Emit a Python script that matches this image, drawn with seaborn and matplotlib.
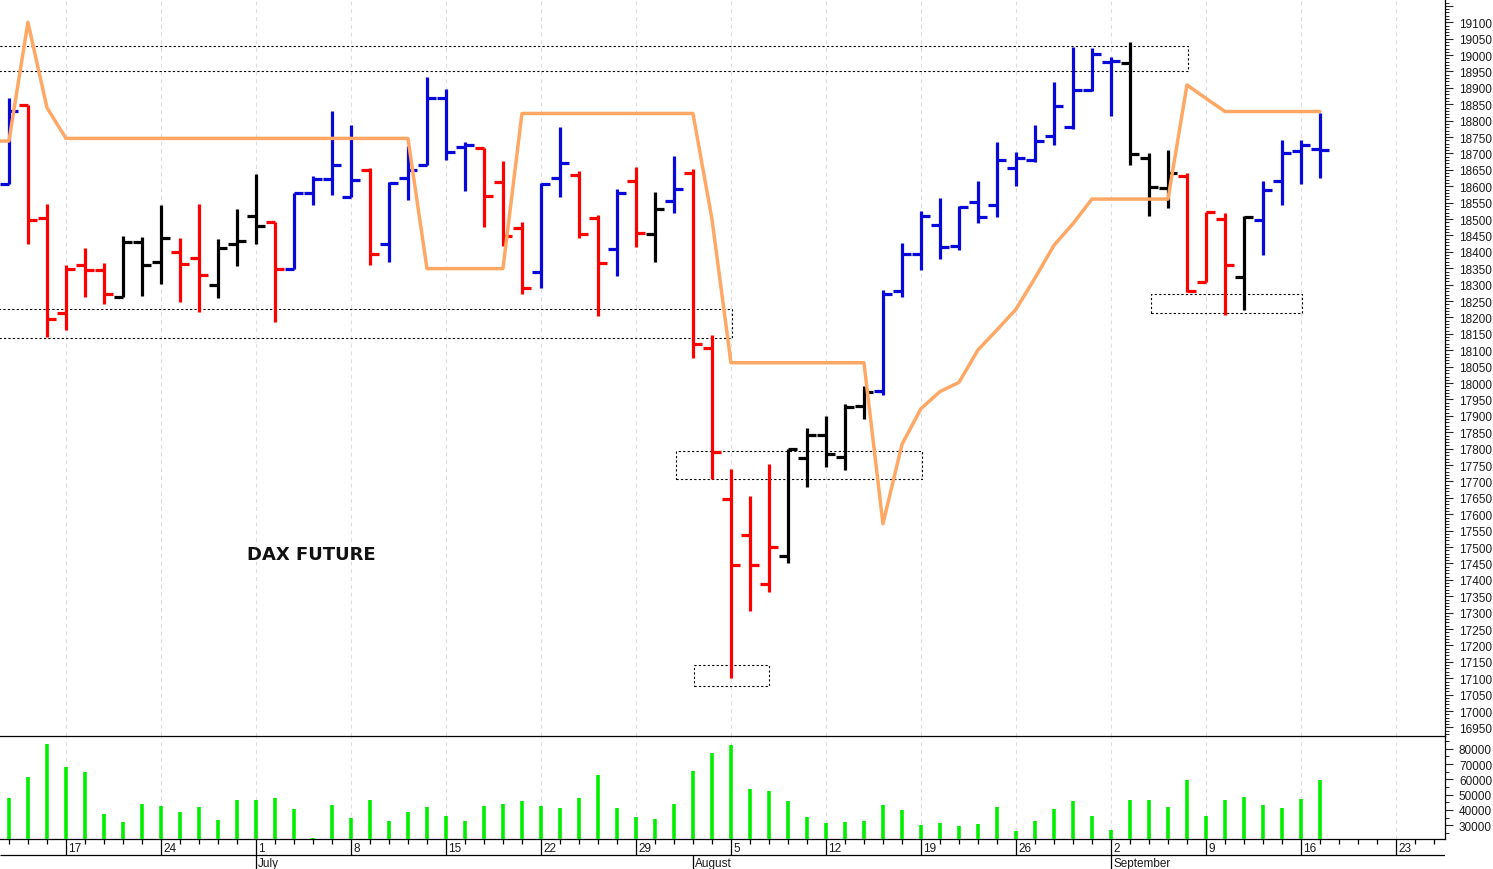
import numpy as np
import pandas as pd
import matplotlib
matplotlib.use("Agg")
import matplotlib.pyplot as plt
import seaborn as sns
from matplotlib.ticker import MultipleLocator, FuncFormatter, FixedLocator

# ---------------- data ----------------
dates = pd.bdate_range("2024-06-12", "2024-09-17")          # 70 trading days (bars)
axis_dates = pd.bdate_range("2024-06-12", "2024-09-27")     # date axis continues to the right

opens = [18606, 18848, 18503, 18213, 18360, 18344, 18262, 18430, 18370, 18401,
         18381, 18299, 18423, 18509, 18490, 18349, 18581, 18622, 18568, 18650,
         18425, 18624, 18664, 18869, 18721, 18716, 18613, 18474, 18340, 18624,
         18634, 18502, 18408, 18615, 18456, 18554, 18639, 18108, 17647, 17538,
         17388, 17472, 17772, 17843, 17774, 17930, 17975, 18281, 18395, 18482,
         18418, 18552, 18542, 18657, 18681, 18752, 18780, 18893, 18980, 18975,
         18686, 18595, 18632, 18309, 18500, 18323, 18497, 18615, 18708, 18715]
highs = [18869, 18848, 18547, 18360, 18413, 18367, 18449, 18446, 18542, 18441,
         18547, 18438, 18532, 18637, 18490, 18581, 18632, 18828, 18787, 18657,
         18613, 18723, 18934, 18896, 18734, 18716, 18676, 18491, 18609, 18780,
         18647, 18513, 18593, 18660, 18583, 18691, 18652, 18146, 17739, 17655,
         17752, 17800, 17862, 17901, 17935, 17991, 18283, 18428, 18525, 18564,
         18540, 18617, 18734, 18703, 18786, 18917, 19026, 19021, 18995, 19041,
         18701, 18711, 18642, 18523, 18517, 18508, 18617, 18742, 18742, 18823]
lows = [18606, 18425, 18141, 18161, 18261, 18240, 18262, 18264, 18301, 18248,
        18218, 18258, 18357, 18425, 18187, 18349, 18542, 18573, 18568, 18360,
        18369, 18558, 18664, 18680, 18586, 18476, 18418, 18271, 18289, 18566,
        18442, 18204, 18327, 18416, 18370, 18517, 18077, 17709, 17102, 17306,
        17362, 17452, 17682, 17743, 17734, 17889, 17963, 18261, 18345, 18377,
        18406, 18487, 18505, 18601, 18673, 18725, 18775, 18890, 18813, 18665,
        18508, 18533, 18279, 18309, 18207, 18222, 18391, 18542, 18606, 18625]
closes = [18828, 18497, 18194, 18349, 18344, 18273, 18430, 18360, 18441, 18364,
          18330, 18413, 18433, 18479, 18349, 18581, 18622, 18665, 18619, 18393,
          18610, 18650, 18869, 18706, 18725, 18571, 18449, 18291, 18606, 18671,
          18456, 18365, 18581, 18459, 18530, 18591, 18118, 17790, 17444, 17444,
          17500, 17800, 17843, 17785, 17928, 17972, 18271, 18395, 18508, 18416,
          18538, 18505, 18680, 18686, 18737, 18845, 18893, 19003, 18981, 18698,
          18598, 18639, 18281, 18523, 18359, 18505, 18589, 18700, 18725, 18712]
bar_state = list("BRRRRRKKKRRKKKRBBBBRBBBBBRRRBBRRBRKBRRRRRKKKKKBBBBBBBBBBBBBKKKRRRKBBBB")

volumes = [47540, 61620, 83400, 68400, 64880, 37500, 32090, 43630, 42720, 38600,
           41870, 33390, 46230, 46230, 47730, 40560, 21850, 43170, 34500, 46230,
           32930, 38600, 41870, 36000, 32930, 42520, 43630, 45580, 42520, 41210,
           47540, 62530, 41210, 35350, 34240, 43630, 65340, 77070, 82750, 53600,
           52300, 45580, 35350, 31430, 31870, 32930, 42970, 39900, 30130, 31430,
           29280, 30780, 41670, 26420, 32540, 40370, 45970, 35800, 26670, 46630,
           46630, 41670, 59270, 36000, 46630, 48190, 43370, 41410, 47280, 59270]

orange_prev = 18738   # value on the bar before the first visible one
orange = ([18738, 19100, 18840, 18746] + [18746] * 18 + [18349] * 5 + [18822] * 10 +
          [18500, 18062] + [18062] * 7 +
          [17571, 17813, 17922, 17974, 18002, 18101, 18162, 18225, 18320, 18420, 18486, 18561] +
          [18561] * 4 + [18909, 18868] + [18828] * 6)

# dotted zones: (start bar, end bar, low price, high price)
zone_x0 = [-1.0, -1.0, 35.09, 36.07, 60.1]
zone_x1 = [62.04, 38.04, 48.04, 40.02, 68.04]
zone_lo = [18952, 18138, 17709, 17077, 18213]
zone_hi = [19029, 18227, 17792, 17139, 18273]

title_text = "DAX FUTURE"
month_names = {7: "July", 8: "August", 9: "September"}

# ---------------- style ----------------
sns.set_theme(style="white")
plt.rcParams["font.family"] = ["Liberation Sans", "DejaVu Sans"]
plt.rcParams["axes.linewidth"] = 0.9

W, H = 1493, 870
fig = plt.figure(figsize=(W / 100, H / 100), dpi=100)
fig.patch.set_facecolor("white")

axw = 1445 / W
p_bot = 737.3
v_bot = 840
ax_p = fig.add_axes([0, 1 - p_bot / H, axw, p_bot / H])
ax_v = fig.add_axes([0, 1 - v_bot / H, axw, (v_bot - p_bot) / H])
ax_d = fig.add_axes([0, 0, axw, (H - v_bot) / H])

XL = (-0.47, 75.58)
color_map = {"B": "#0808d8", "R": "#ff0000", "K": "#000000"}
cols = [color_map[s] for s in bar_state]
idx = np.arange(len(dates))
all_idx = np.arange(len(axis_dates))
mondays = [j for j, d in enumerate(axis_dates) if d.weekday() == 0]

grid_kw = dict(color="#dcdce6", lw=0.8, linestyle=(0, (3.5, 3.5)), zorder=0)
LABEL_FS = 8.5

# ---------------- price panel ----------------
ax_p.set_xlim(*XL)
ax_p.set_ylim(16923, 19171)
for j in mondays:
    ax_p.axvline(j, **grid_kw)

for x0, x1, lo, hi in zip(zone_x0, zone_x1, zone_lo, zone_hi):
    ax_p.plot([x0, x1, x1, x0, x0], [lo, lo, hi, hi, lo], color="black",
              lw=0.8, linestyle=(0, (2, 2)), zorder=2)

ax_p.vlines(idx, lows, highs, colors=cols, lw=2.3, zorder=3)
ax_p.hlines(opens, idx - 0.45, idx, colors=cols, lw=2.3, zorder=3)
ax_p.hlines(closes, idx, idx + 0.47, colors=cols, lw=2.3, zorder=3)

orange_df = pd.DataFrame({"x": np.arange(-1, len(orange)), "v": [orange_prev] + orange})
sns.lineplot(data=orange_df, x="x", y="v", ax=ax_p, color="#ffa866", linewidth=2.5,
             zorder=4, legend=False)

ax_p.text(311 / 1445, 1 - 555 / p_bot, title_text, transform=ax_p.transAxes,
          ha="center", va="center", fontsize=13, fontweight="bold",
          family=["DejaVu Sans"], color="#111111")

ax_p.yaxis.tick_right()
ax_p.yaxis.set_major_locator(FixedLocator(list(range(16950, 19151, 50))))
ax_p.yaxis.set_minor_locator(MultipleLocator(10))
ax_p.yaxis.set_major_formatter(FuncFormatter(lambda v, p: "" if v > 19100 else f"{int(v)}"))
ax_p.tick_params(axis="y", which="major", length=6, width=0.8, pad=4,
                 labelsize=LABEL_FS, labelcolor="#1a1a1a", right=True, left=False)
ax_p.tick_params(axis="y", which="minor", length=3, width=0.7, right=True, left=False)
ax_p.set_xticks([])
ax_p.set_xlabel("")
ax_p.set_ylabel("")
for s in ["left", "top", "bottom"]:
    ax_p.spines[s].set_visible(False)
ax_p.spines["right"].set_color("black")

# ---------------- volume panel ----------------
ax_v.set_xlim(*XL)
ax_v.set_ylim(21000, 88150)
for j in mondays:
    ax_v.axvline(j, **grid_kw)
ax_v.vlines(idx, 21000, volumes, colors="#00ee00", lw=2.6, zorder=3)
ax_v.yaxis.tick_right()
ax_v.yaxis.set_major_locator(FixedLocator(list(range(30000, 80001, 10000))))
ax_v.yaxis.set_minor_locator(MultipleLocator(5000))
ax_v.yaxis.set_major_formatter(FuncFormatter(lambda v, p: f"{int(v)}"))
ax_v.tick_params(axis="y", which="major", length=6, width=0.8, pad=4,
                 labelsize=LABEL_FS, labelcolor="#1a1a1a", right=True, left=False)
ax_v.tick_params(axis="y", which="minor", length=3, width=0.7, right=True, left=False)
ax_v.set_xticks([])
ax_v.spines["left"].set_visible(False)
for s in ["top", "right", "bottom"]:
    ax_v.spines[s].set_color("black")

# ---------------- date axis ----------------
ax_d.set_xlim(*XL)
ax_d.set_ylim(30, 0)
ax_d.axis("off")
ax_d.hlines(16, XL[0], XL[1], color="black", lw=0.9)
for j, d in zip(all_idx, axis_dates):
    if d.weekday() == 0:
        ax_d.vlines(j, 0, 16, color="black", lw=0.9)
        ax_d.text(j + 0.12, 9.3, str(d.day), ha="left", va="center", fontsize=LABEL_FS,
                  color="#1a1a1a")
    else:
        ax_d.vlines(j, 0, 4.5, color="black", lw=0.9)
prev_month = None
for j, d in zip(all_idx, axis_dates):
    if prev_month is not None and d.month != prev_month:
        ax_d.vlines(j, 16, 30, color="black", lw=0.9)
        ax_d.text(j + 0.12, 23.6, month_names.get(d.month, ""), ha="left", va="center",
                  fontsize=LABEL_FS, color="#1a1a1a")
    prev_month = d.month

fig.savefig("out.png", dpi=100, facecolor="white")
